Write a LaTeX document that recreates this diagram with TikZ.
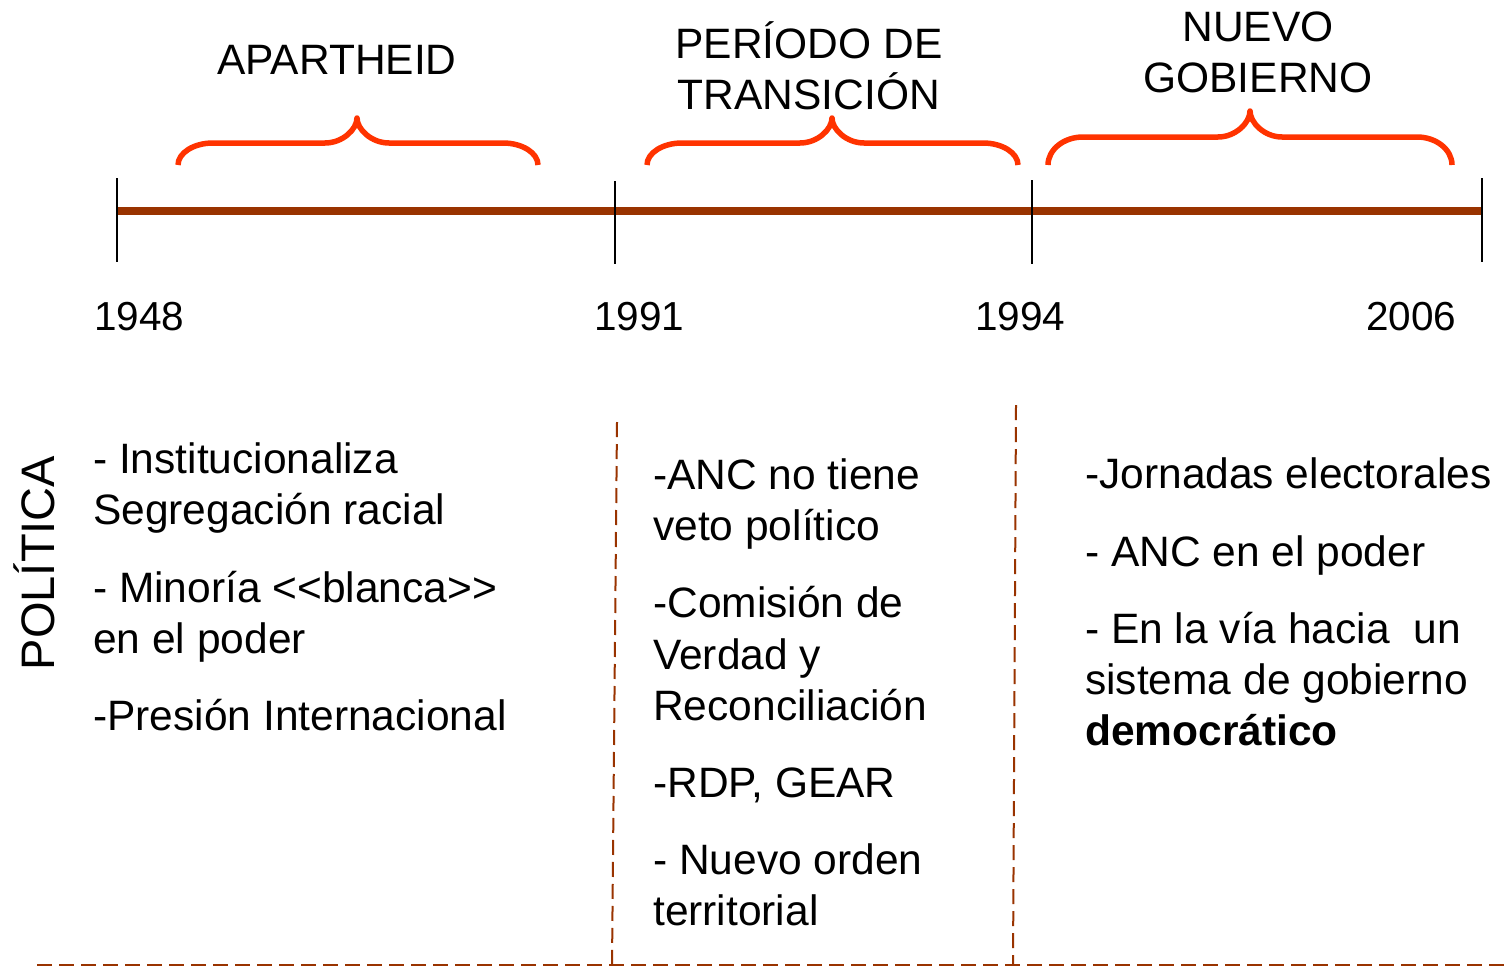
\documentclass[tikz,border=0pt]{standalone}
\usepackage{fontspec}
\setmainfont{Liberation Sans}
\definecolor{axiscol}{HTML}{993300}
\definecolor{bracecol}{HTML}{FF3300}
\newcommand{\tlbrace}[6]{% x1 x2 xm yend yflat ytip
  \draw[brc] (#1,#4) .. controls (#1,#4-0.55*#4+0.55*#5) and (#1+15.75,#5) .. (#1+35,#5)
    -- (#3-32,#5) .. controls (#3-14.4,#5) and (#3,#5-0.55*#5+0.55*#6) .. (#3,#6)
    .. controls (#3,#5-0.55*#5+0.55*#6) and (#3+14.4,#5) .. (#3+32,#5)
    -- (#2-35,#5) .. controls (#2-15.75,#5) and (#2,#4-0.55*#4+0.55*#5) .. (#2,#4);}
\begin{document}
\begin{tikzpicture}[x=1pt,y=-1pt,
  txt/.style={inner sep=0pt, font=\fontsize{42.5}{51}\selectfont},
  yeartxt/.style={inner sep=0pt, font=\fontsize{40.5}{48}\selectfont},
  tickline/.style={line width=2pt, black},
  axisline/.style={line width=8pt, axiscol},
  brc/.style={line width=5.5pt, bracecol, line join=round},
  sepline/.style={line width=2pt, axiscol, dash pattern=on 15pt off 7pt}]
\useasboundingbox (0,0) rectangle (1506,969);

% timeline
\coordinate (t0) at (117,211);
\coordinate (t3) at (1482,211);
\draw[axisline] (t0) -- (t3);
\draw[tickline] (117,178) -- (117,262);
\draw[tickline] (615,181) -- (615,264);
\draw[tickline] (1032,180) -- (1032,264);
\draw[tickline] (1482,178) -- (1482,262);

% braces
\tlbrace{178}{538}{357}{165}{143}{118}
\tlbrace{647}{1018}{832}{165}{143}{118}
\tlbrace{1048}{1452}{1250}{165}{137}{111}

% period titles
\node[txt, anchor=base] (apartheid) at (337,74) {APARTHEID};
\node[txt, anchor=base] (trans1) at (809,58) {PERÍODO DE};
\node[txt, anchor=base] (trans2) at (809,109) {TRANSICIÓN};
\node[txt, anchor=base] (nuevo1) at (1258,41) {NUEVO};
\node[txt, anchor=base] (nuevo2) at (1258,92) {GOBIERNO};

% years
\node[yeartxt, anchor=base west] (y1948) at (94,330) {1948};
\node[yeartxt, anchor=base west] (y1991) at (594,330) {1991};
\node[yeartxt, anchor=base west] (y1994) at (975,330) {1994};
\node[yeartxt, anchor=base west] (y2006) at (1366,330) {2006};

% separators
\draw[sepline] (617,422) -- (612,965);
\draw[sepline] (1016,405) -- (1013,965);
\draw[sepline] (37,965) -- (1506,965);

% row label
\node[inner sep=0pt, font=\fontsize{47}{56}\selectfont, rotate=90, anchor=base] (politica) at (54,563) {POLÍTICA};

% column 1
\node[txt, anchor=base west] (a1) at (93,473) {- Institucionaliza};
\node[txt, anchor=base west] (a2) at (93,524) {Segregación racial};
\node[txt, anchor=base west] (a3) at (93,602) {- Minoría <{}<blanca>{}>};
\node[txt, anchor=base west] (a4) at (93,653) {en el poder};
\node[txt, anchor=base west] (a5) at (93,730) {-Presión Internacional};

% column 2
\node[txt, anchor=base west] (b1) at (653,489) {-ANC no tiene};
\node[txt, anchor=base west] (b2) at (653,540) {veto político};
\node[txt, anchor=base west] (b3) at (653,617) {-Comisión de};
\node[txt, anchor=base west] (b4) at (653,669) {Verdad y};
\node[txt, anchor=base west] (b5) at (653,720) {Reconciliación};
\node[txt, anchor=base west] (b6) at (653,797) {-RDP, GEAR};
\node[txt, anchor=base west] (b7) at (653,874) {- Nuevo orden};
\node[txt, anchor=base west] (b8) at (653,925) {territorial};

% column 3
\node[txt, anchor=base west] (c1) at (1085,488) {-Jornadas electorales};
\node[txt, anchor=base west] (c2) at (1085,566) {- ANC en el poder};
\node[txt, anchor=base west] (c3) at (1085,643) {- En la vía hacia\ \ un};
\node[txt, anchor=base west] (c4) at (1085,694) {sistema de gobierno};
\node[txt, anchor=base west] (c5) at (1085,745) {\bfseries democrático};
\end{tikzpicture}
\end{document}
